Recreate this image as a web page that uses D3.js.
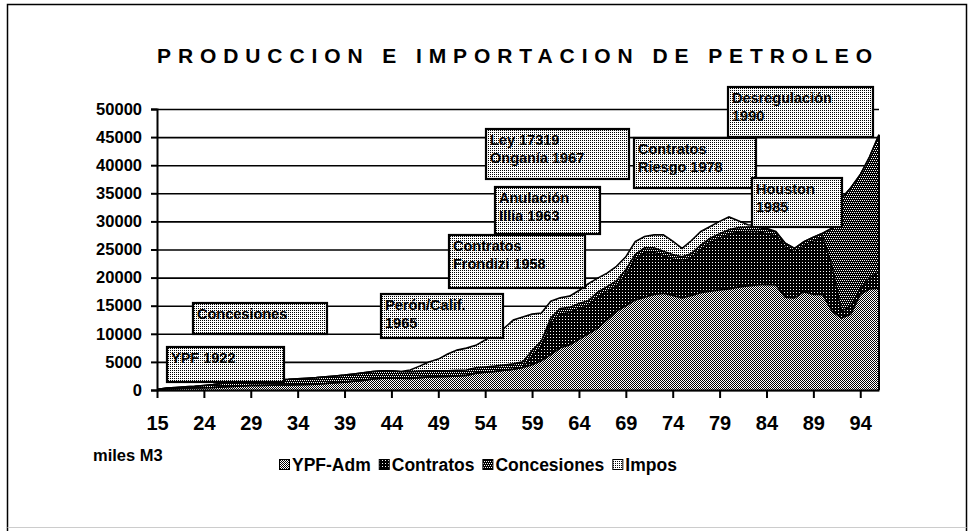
<!DOCTYPE html>
<html><head><meta charset="utf-8">
<script src="https://cdn.jsdelivr.net/npm/d3@7"></script>
<style>
html,body{margin:0;padding:0;background:#fff;}
text{font-family:"Liberation Sans",Arial,sans-serif;font-weight:bold;fill:#000;}
</style></head>
<body>
<svg id="c" width="971" height="531"></svg>
<script>
// ---------- DATA ----------
const categories = ["15","20","21","22","23","24","25","26","27","28","29","30","31","32","33","34","35","36","37","38","39","40","41","42","43","44","45","46","47","48","49","50","51","52","53","54","55","56","57","58","59","60","61","62","63","64","65","66","67","68","69","70","71","72","73","74","75","76","77","78","79","80","81","82","83","84","85","86","87","88","89","90","91","92","93","94","95","96"];
const tickLabels = ["15","24","29","34","39","44","49","54","59","64","69","74","79","84","89","94"];
const seriesNames = ["YPF-Adm","Contratos","Concesiones","Impos"];
const ypfAdm = [80,200,250,300,350,400,450,550,650,700,800,800,850,900,900,950,1000,1050,1150,1300,1400,1550,1700,1950,2100,2150,2100,2050,2200,2300,2350,2400,2500,2600,3000,3150,3300,3500,3700,4000,4500,5200,6300,7500,8000,9000,10000,11000,12500,14000,15000,16000,16500,17000,17200,16800,16400,16800,17300,17600,17800,18000,18300,18500,18700,18800,18700,16500,16400,17500,17000,17000,14000,12800,13500,17000,18000,18100];
const contratos = [0,0,0,0,0,0,0,0,0,0,0,0,0,0,0,0,0,0,0,0,0,0,0,0,0,0,0,0,0,0,0,0,0,0,0,0,0,0,0,0,1500,2500,5500,6000,5800,5500,5000,5500,5000,4500,5500,7200,7900,7500,6700,6500,6500,6700,7700,8600,9200,9700,9800,9700,9500,9000,8700,8900,8100,8200,9500,10200,8000,1200,1500,1000,2000,2900];
const concesiones = [0,150,200,250,300,400,500,650,700,750,800,750,850,950,1000,1050,1100,1150,1200,1200,1250,1300,1350,1350,1300,1250,1200,1200,1150,1100,1050,1000,1000,950,950,950,950,950,950,1000,1000,1000,1000,1000,900,900,900,900,900,900,900,900,900,800,800,800,800,800,800,800,800,800,800,800,800,800,700,700,700,700,700,700,6800,20100,21000,20300,21500,24400];
const impos = [0,0,0,0,0,0,0,0,0,0,0,0,0,0,0,0,0,0,0,0,0,0,0,0,0,0,0,300,900,1600,2100,3000,3600,3900,4000,4800,5600,6500,7800,8000,6500,5000,3000,1900,2000,2300,3000,2500,2400,2600,2300,2300,2000,2300,2900,2400,1500,2300,2400,2100,2200,2300,1200,400,300,200,100,0,0,0,0,0,0,0,0,0,0,0];
const yTicks = [0,5000,10000,15000,20000,25000,30000,35000,40000,45000,50000];
const titleText = "PRODUCCION E IMPORTACION DE PETROLEO";
const unitLabel = "miles M3";
const notes = [
  {t:["YPF 1922"], x:167, y:347, w:117, h:35},
  {t:["Concesiones"], x:193, y:303, w:134, h:31},
  {t:["Perón/Calif.","1965"], x:381, y:294, w:122, h:44},
  {t:["Contratos","Frondizi 1958"], x:449, y:235, w:136, h:53},
  {t:["Anulación","Illia 1963"], x:495, y:187, w:105, h:47},
  {t:["Ley 17319","Onganía 1967"], x:486, y:129, w:143, h:50},
  {t:["Contratos","Riesgo 1978"], x:634, y:138, w:122, h:50},
  {t:["Desregulación","1990"], x:728, y:87, w:145, h:50},
  {t:["Houston","1985"], x:752, y:178, w:90, h:49}
];

// ---------- BUILD ----------
const svg = d3.select("#c");
const defs = svg.append("defs");
function pat(id, size, bg, fg, cells){
  const p = defs.append("pattern").attr("id",id).attr("patternUnits","userSpaceOnUse")
    .attr("width",size).attr("height",size);
  p.append("rect").attr("width",size).attr("height",size).attr("fill",bg);
  cells.forEach(c=>p.append("rect").attr("x",c[0]).attr("y",c[1]).attr("width",1).attr("height",1).attr("fill",fg));
}
pat("pYPF",2,"#fff","#000",[[0,0],[1,1]]);
pat("pContr",3,"#000","#fff",[[1,1]]);
pat("pConc",4,"#000","#fff",[[0,0],[2,0],[1,2],[3,2]]);
pat("pImpos",2,"#fff","#000",[[0,0]]);
const fills = {"YPF-Adm":"url(#pYPF)","Contratos":"url(#pContr)","Concesiones":"url(#pConc)","Impos":"url(#pImpos)"};

// frame
svg.append("path").attr("d","M7.5,531 L7.5,4.5 L966.5,4.5 L966.5,531").attr("fill","none").attr("stroke","#000").attr("stroke-width",1.5);
svg.append("line").attr("x1",7.5).attr("x2",966.5).attr("y1",527.5).attr("y2",527.5).attr("stroke","#ccc");

const x = d3.scalePoint().domain(categories).range([157,879]);
const y = d3.scaleLinear().domain([0,50000]).range([390,109]);

// title
const title = svg.append("text").attr("x",157).attr("y",63).style("font-size","21px").text(titleText);
const L = title.node().getComputedTextLength();
title.style("letter-spacing", ((715 - L)/(titleText.length-1))+"px");

// gridlines
svg.append("g").attr("transform","translate(157,0)")
  .call(d3.axisLeft(y).tickValues(yTicks).tickSize(-(879-157)).tickFormat(""))
  .call(g=>g.select(".domain").remove())
  .call(g=>g.selectAll("line").attr("stroke","#000").attr("stroke-width",1.6));

// stacked areas
const table = categories.map((c,i)=>({cat:c,"YPF-Adm":ypfAdm[i],"Contratos":contratos[i],"Concesiones":concesiones[i],"Impos":impos[i]}));
const stack = d3.stack().keys(seriesNames)(table);
const area = d3.area().x(d=>x(d.data.cat)).y0(d=>y(d[0])).y1(d=>y(d[1]));
const line = d3.line().x(d=>x(d.data.cat)).y(d=>y(d[1]));
svg.append("g").selectAll("path").data(stack).join("path")
  .attr("d",area).attr("fill",d=>fills[d.key]);
svg.append("g").selectAll("path").data(stack).join("path")
  .attr("d",line).attr("fill","none").attr("stroke","#000").attr("stroke-width",1.6);
const last = stack[stack.length-1][categories.length-1];
svg.append("line").attr("x1",x(categories[categories.length-1])).attr("x2",x(categories[categories.length-1]))
  .attr("y1",y(0)).attr("y2",y(last[1])).attr("stroke","#000").attr("stroke-width",2);

// y axis
const ya = svg.append("g").attr("transform","translate(157,0)")
  .call(d3.axisLeft(y).tickValues(yTicks).tickSize(6).tickPadding(9).tickFormat(d3.format("d")));
ya.select(".domain").attr("stroke","#000").attr("stroke-width",2);
ya.selectAll("line").attr("stroke","#000").attr("stroke-width",2);
ya.selectAll("text").style("font-size","16.5px").style("font-family",'"Liberation Sans",Arial,sans-serif').style("font-weight","bold");

// x axis
const xa = svg.append("g").attr("transform","translate(0,390)")
  .call(d3.axisBottom(x).tickValues(tickLabels).tickSize(8).tickSizeOuter(0));
xa.select(".domain").attr("stroke","#000").attr("stroke-width",2);
xa.selectAll("line").attr("stroke","#000").attr("stroke-width",2);
xa.selectAll("text").attr("y",40).attr("dy",0).style("font-size","20px")
  .style("font-family",'"Liberation Sans",Arial,sans-serif').style("font-weight","bold");

// unit label
svg.append("text").attr("x",93).attr("y",461).style("font-size","16.5px").text(unitLabel);

// legend
const lg = svg.append("g").attr("transform","translate(279,471)");
let lx = 0;
seriesNames.forEach(n=>{
  lg.append("rect").attr("x",lx+0.5).attr("y",-11.5).attr("width",10).attr("height",10)
    .attr("fill",fills[n]).attr("stroke","#000").attr("stroke-width",1);
  const t = lg.append("text").attr("x",lx+13).attr("y",0).style("font-size","17.5px").text(n);
  lx += 13 + t.node().getComputedTextLength() + 8;
});

// annotation boxes
const ng = svg.append("g").selectAll("g").data(notes).join("g");
ng.append("rect").attr("x",d=>d.x).attr("y",d=>d.y).attr("width",d=>d.w).attr("height",d=>d.h)
  .attr("fill","url(#pImpos)").attr("stroke","#000").attr("stroke-width",2.2);
ng.each(function(d){
  const g = d3.select(this);
  d.t.forEach((s,i)=>g.append("text").attr("x",d.x+4).attr("y",d.y+16+i*18).style("font-size","14.5px").text(s));
});
</script>
</body></html>
